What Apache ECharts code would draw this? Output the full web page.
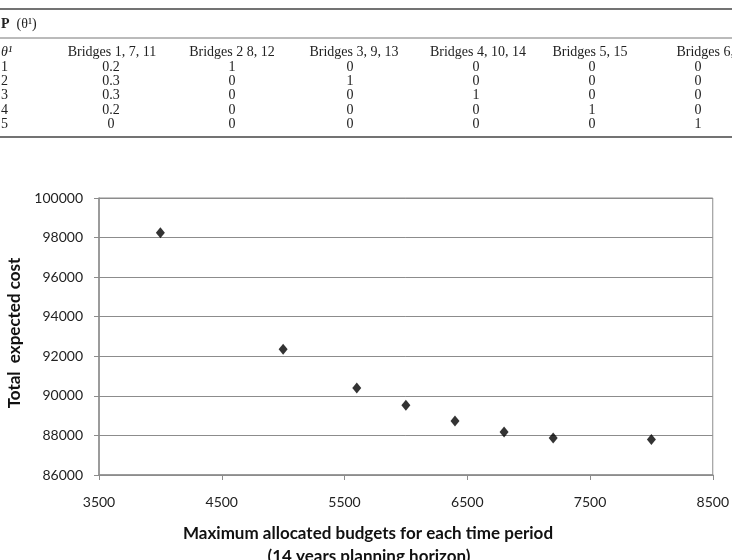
<!DOCTYPE html>
<html>
<head>
<meta charset="utf-8">
<script src="https://cdn.jsdelivr.net/npm/echarts@6/dist/echarts.min.js"></script>
<style>
  html, body { margin: 0; padding: 0; background: #fff; }
  #chart { width: 732px; height: 560px; }
</style>
</head>
<body>
<div id="chart"></div>
<script>
// scatter data
var budgets = [4000, 5000, 5600, 6000, 6400, 6800, 7200, 8000];
var costs = [98250, 92350, 90400, 89520, 88730, 88170, 87870, 87800];

// table above the chart
var tableHeaders = ['Bridges 1, 7, 11', 'Bridges 2 8, 12', 'Bridges 3, 9, 13', 'Bridges 4, 10, 14', 'Bridges 5, 15', 'Bridges 6, 16'];
var thetaValues = ['1', '2', '3', '4', '5'];
var tableRows = [
  ['0.2', '1', '0', '0', '0', '0'],
  ['0.3', '0', '1', '0', '0', '0'],
  ['0.3', '0', '0', '1', '0', '0'],
  ['0.2', '0', '0', '0', '1', '0'],
  ['0', '0', '0', '0', '0', '1']
];

var headX = [112, 232, 354, 478, 590, 714];
var valX = [111, 232, 350, 476, 592, 698];
var headY = 52;
var rowY0 = 67, rowStep = 14.3;
var serif = '"Liberation Serif", "DejaVu Serif", serif';
var tfs = 14;

var graphics = [];
// rules
graphics.push({ type: 'line', shape: { x1: 0, y1: 9, x2: 732, y2: 9 }, style: { stroke: '#444', lineWidth: 1.5 } });
graphics.push({ type: 'line', shape: { x1: 0, y1: 38, x2: 732, y2: 38 }, style: { stroke: '#777', lineWidth: 1 } });
graphics.push({ type: 'line', shape: { x1: 0, y1: 137, x2: 732, y2: 137 }, style: { stroke: '#444', lineWidth: 1.5 } });

graphics.push({
  type: 'text', x: 1, y: 24,
  style: {
    text: '{b|P}  (θ¹)', fontFamily: serif, fontSize: tfs, fill: '#222', verticalAlign: 'middle',
    rich: { b: { fontWeight: 'bold', fontFamily: serif, fontSize: tfs } }
  }
});
graphics.push({
  type: 'text', x: 1, y: headY,
  style: { text: 'θ¹', fontFamily: serif, fontSize: tfs, fontStyle: 'italic', fill: '#222', verticalAlign: 'middle' }
});
for (var c = 0; c < tableHeaders.length; c++) {
  graphics.push({
    type: 'text', x: headX[c], y: headY,
    style: { text: tableHeaders[c], fontFamily: serif, fontSize: tfs, fill: '#222', align: 'center', verticalAlign: 'middle' }
  });
}
for (var r = 0; r < tableRows.length; r++) {
  var yy = rowY0 + r * rowStep;
  graphics.push({
    type: 'text', x: 1, y: yy,
    style: { text: thetaValues[r], fontFamily: serif, fontSize: tfs, fill: '#222', verticalAlign: 'middle' }
  });
  for (var c2 = 0; c2 < tableRows[r].length; c2++) {
    graphics.push({
      type: 'text', x: valX[c2], y: yy,
      style: { text: tableRows[r][c2], fontFamily: serif, fontSize: tfs, fill: '#222', align: 'center', verticalAlign: 'middle' }
    });
  }
}

// axis titles
var sans = 'Lato, "Open Sans", sans-serif';
graphics.push({
  type: 'text', x: 15, y: 333, rotation: Math.PI / 2,
  style: { text: 'Total  expected cost', fontFamily: sans, fontSize: 17, fontWeight: 'bold', fill: '#111', align: 'center', verticalAlign: 'middle' }
});
graphics.push({
  type: 'text', x: 368, y: 534,
  style: { text: 'Maximum allocated budgets for each time period', fontFamily: sans, fontSize: 17, fontWeight: 'bold', fill: '#111', align: 'center', verticalAlign: 'middle' }
});
graphics.push({
  type: 'text', x: 369, y: 557,
  style: { text: '(14 years planning horizon)', fontFamily: sans, fontSize: 17, fontWeight: 'bold', fill: '#111', align: 'center', verticalAlign: 'middle' }
});

var points = [];
for (var i = 0; i < budgets.length; i++) {
  points.push([budgets[i], costs[i]]);
}

var option = {
  animation: false,
  backgroundColor: '#fff',
  grid: {
    left: 99, right: 15, top: 198, bottom: 85,
    show: true, borderColor: '#8c8c8c', borderWidth: 1
  },
  xAxis: {
    type: 'value', min: 3500, max: 8500, interval: 1000,
    axisLine: { show: true, lineStyle: { color: '#8c8c8c', width: 1.5 } },
    axisTick: { show: true, inside: false, length: 5, lineStyle: { color: '#8c8c8c' } },
    axisLabel: { color: '#222', fontFamily: sans, fontSize: 14, margin: 20, formatter: function (v) { return String(v); } },
    splitLine: { show: false }
  },
  yAxis: {
    type: 'value', min: 86000, max: 100000, interval: 2000,
    axisLine: { show: true, lineStyle: { color: '#8c8c8c', width: 1.5 } },
    axisTick: { show: true, inside: false, length: 5, lineStyle: { color: '#8c8c8c' } },
    axisLabel: { color: '#222', fontFamily: sans, fontSize: 14, margin: 16, formatter: function (v) { return String(v); } },
    splitLine: { show: true, lineStyle: { color: '#8c8c8c', width: 1 } }
  },
  series: [{
    type: 'scatter',
    data: points,
    symbol: 'diamond',
    symbolSize: [9, 11],
    itemStyle: { color: '#000' }
  }],
  graphic: graphics
};

echarts.init(document.getElementById('chart')).setOption(option);
</script>
</body>
</html>
